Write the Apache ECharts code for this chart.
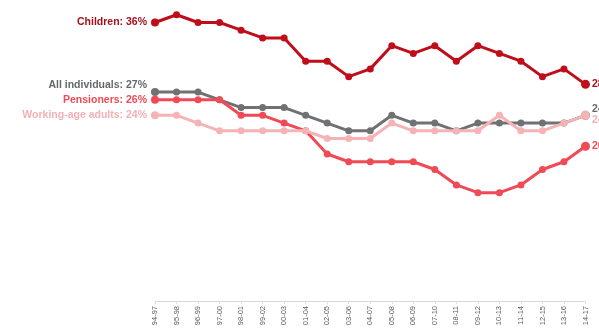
<!DOCTYPE html>
<html>
<head>
<meta charset="utf-8">
<script src="https://cdn.jsdelivr.net/npm/echarts@6/dist/echarts.min.js"></script>
<style>
  html, body { margin: 0; padding: 0; background: #ffffff; }
  #chart { width: 599px; height: 330px; }
</style>
</head>
<body>
<div id="chart"></div>
<script>
// Three-year rolling periods
const periods = ['94-97','95-98','96-99','97-00','98-01','99-02','00-03','01-04','02-05','03-06',
  '04-07','05-08','06-09','07-10','08-11','09-12','10-13','11-14','12-15','13-16','14-17'];

// Share of people in relative poverty (%), after housing costs
const children   = [36,37,36,36,35,34,34,31,31,29,30,33,32,33,31,33,32,31,29,30,28];
const allPeople  = [27,27,27,26,25,25,25,24,23,22,22,24,23,23,22,23,23,23,23,23,24];
const pensioners = [26,26,26,26,24,24,23,22,19,18,18,18,18,17,15,14,14,15,17,18,20];
const workingAge = [24,24,23,22,22,22,22,22,21,21,21,23,22,22,22,22,24,22,22,23,24];

const COLORS = {
  children: '#bf0d1a',
  childrenText: '#a50f1c',
  all: '#6f7173',
  allText: '#66686a',
  pensioners: '#ef4a55',
  workingAge: '#f6b3b6',
  workingAgeText: '#f2b0b4'
};

function buildData(values, name, textColor, startOffset, endOffset) {
  const last = values.length - 1;
  return values.map((v, i) => {
    if (i === 0) {
      return {
        value: v,
        symbolSize: 8,
        label: {
          show: true, position: 'left', distance: 4,
          offset: startOffset,
          formatter: name + ': ' + v + '%',
          color: textColor, fontWeight: 'bold', fontSize: 10.5,
          fontFamily: 'Liberation Sans, Arial, sans-serif'
        }
      };
    }
    if (i === last) {
      return {
        value: v,
        symbolSize: 9,
        label: {
          show: true, position: 'right', distance: 2,
          offset: endOffset,
          formatter: v + '%',
          color: textColor, fontWeight: 'bold', fontSize: 10.5,
          fontFamily: 'Liberation Sans, Arial, sans-serif'
        }
      };
    }
    return v;
  });
}

function lineSeries(name, values, color, textColor, startOffset, endOffset, z) {
  return {
    name: name,
    type: 'line',
    data: buildData(values, name, textColor, startOffset, endOffset),
    symbol: 'circle',
    symbolSize: 7,
    lineStyle: { color: color, width: 3 },
    itemStyle: { color: color },
    label: { show: false },
    z: z,
    animation: false
  };
}

const chart = echarts.init(document.getElementById('chart'), null, { renderer: 'canvas' });

chart.setOption({
  backgroundColor: '#ffffff',
  grid: { left: 155, right: 13.5, top: 7, bottom: 29 },
  xAxis: {
    type: 'category',
    data: periods,
    boundaryGap: false,
    axisLine: { show: true, lineStyle: { color: '#d8d8d8', width: 1 } },
    axisTick: { show: true, length: 3, lineStyle: { color: '#e0e0e0' } },
    axisLabel: {
      interval: 0, rotate: 90, fontSize: 7.5, color: '#5a5a5a', margin: 5,
      fontFamily: 'Liberation Sans, Arial, sans-serif'
    },
    splitLine: { show: false }
  },
  yAxis: {
    type: 'value',
    min: 0, max: 38,
    show: false,
    splitLine: { show: false }
  },
  series: [
    lineSeries('All individuals', allPeople, COLORS.all, COLORS.allText, [0, -7], [0, -6], 2),
    lineSeries('Pensioners', pensioners, COLORS.pensioners, COLORS.pensioners, [0, 0], [0, 0], 3),
    lineSeries('Working-age adults', workingAge, COLORS.workingAge, COLORS.workingAgeText, [0, 0], [0, 5], 4),
    lineSeries('Children', children, COLORS.children, COLORS.childrenText, [0, 0], [0, 0], 5)
  ]
});
</script>
</body>
</html>
